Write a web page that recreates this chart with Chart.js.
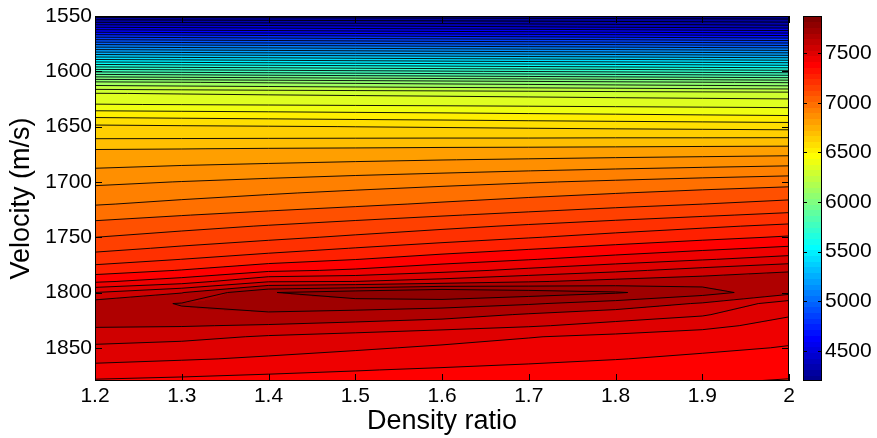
<!DOCTYPE html>
<html>
<head>
<meta charset="utf-8">
<script src="https://cdn.jsdelivr.net/npm/chart.js@4.4.1/dist/chart.umd.min.js"></script>
<style>
  html, body { margin: 0; padding: 0; background: #fff; }
  #wrap { width: 877px; height: 438px; position: relative; }
</style>
</head>
<body>
<div id="wrap"><canvas id="c"></canvas></div>
<script>
// Grid axes
const densityRatio = [1.2, 1.3, 1.4, 1.5, 1.6, 1.7, 1.8, 1.9, 2.0];
const velocity = [1550, 1560, 1570, 1580, 1590, 1600, 1610, 1620, 1630, 1640, 1650,
                  1660, 1670, 1680, 1690, 1700, 1710, 1720, 1730, 1740, 1750, 1760,
                  1770, 1780, 1790, 1800, 1810, 1820, 1830, 1840, 1850, 1860, 1870, 1880];

// Field values, one column per density ratio (rows follow `velocity`)
const zRho12 = [4230, 4553, 4874, 5195, 5517, 5838, 6158, 6362, 6434, 6557, 6663, 6713, 6789, 6832, 6874, 6922, 6964,
                7003, 7055, 7105, 7152, 7204, 7263, 7332, 7429, 7585, 7693, 7700, 7664, 7617, 7570, 7534, 7480, 7433];
const zRho13 = [4226, 4541, 4862, 5183, 5505, 5826, 6146, 6356, 6430, 6550, 6657, 6714, 6791, 6840, 6887, 6938, 6983,
                7025, 7078, 7131, 7180, 7236, 7297, 7372, 7477, 7653, 7733, 7715, 7661, 7606, 7554, 7519, 7468, 7425];
const zRho14 = [4222, 4529, 4849, 5172, 5494, 5814, 6135, 6350, 6426, 6544, 6652, 6715, 6795, 6847, 6899, 6954, 7002,
                7046, 7101, 7157, 7208, 7267, 7333, 7426, 7578, 7797, 7772, 7715, 7650, 7577, 7537, 7504, 7456, 7416];
const zRho15 = [4218, 4517, 4836, 5159, 5481, 5801, 6123, 6345, 6422, 6537, 6647, 6716, 6798, 6855, 6911, 6971, 7021,
                7067, 7124, 7182, 7236, 7299, 7367, 7451, 7585, 7837, 7772, 7700, 7635, 7557, 7521, 7488, 7444, 7408];
const zRho16 = [4215, 4505, 4824, 5147, 5470, 5789, 6111, 6340, 6419, 6531, 6642, 6717, 6802, 6863, 6923, 6987, 7040,
                7089, 7147, 7208, 7264, 7330, 7403, 7491, 7614, 7873, 7758, 7686, 7614, 7537, 7504, 7473, 7432, 7400];
const zRho17 = [4210, 4493, 4812, 5135, 5458, 5777, 6100, 6334, 6415, 6523, 6636, 6717, 6804, 6870, 6936, 7003, 7060,
                7110, 7170, 7234, 7292, 7361, 7437, 7531, 7650, 7837, 7736, 7650, 7592, 7516, 7487, 7458, 7420, 7391];
const zRho18 = [4206, 4481, 4800, 5123, 5447, 5765, 6088, 6328, 6411, 6517, 6630, 6719, 6807, 6878, 6948, 7019, 7078,
                7132, 7193, 7260, 7320, 7392, 7472, 7570, 7679, 7808, 7700, 7621, 7563, 7496, 7470, 7443, 7408, 7382];
const zRho19 = [4202, 4470, 4787, 5111, 5435, 5752, 6076, 6322, 6407, 6510, 6625, 6719, 6811, 6885, 6960, 7036, 7098,
                7152, 7216, 7285, 7348, 7424, 7507, 7610, 7700, 7758, 7650, 7592, 7534, 7475, 7454, 7427, 7395, 7374];
const zRho20 = [4198, 4457, 4775, 5099, 5423, 5740, 6064, 6317, 6403, 6504, 6619, 6720, 6814, 6893, 6972, 7052, 7116,
                7174, 7239, 7311, 7376, 7455, 7542, 7650, 7700, 7679, 7549, 7520, 7484, 7455, 7437, 7412, 7383, 7365];

// Tick labels
const xTicks = [1.2, 1.3, 1.4, 1.5, 1.6, 1.7, 1.8, 1.9, 2];
const yTicks = [1550, 1600, 1650, 1700, 1750, 1800, 1850];
const cbTicks = [4500, 5000, 5500, 6000, 6500, 7000, 7500];
const levelCount = 50;

// Assemble the grid z[row][col]
const columns = [zRho12, zRho13, zRho14, zRho15, zRho16, zRho17, zRho18, zRho19, zRho20];
const z = velocity.map((v, i) => columns.map(c => c[i]));
const zMin = Math.min(...columns.map(c => Math.min(...c)));
const zMax = Math.max(...columns.map(c => Math.max(...c)));
const levels = [];
for (let k = 1; k <= levelCount; k++) levels.push(zMin + k * (zMax - zMin) / (levelCount + 1));

// Classic 64-entry jet colormap
function jet(m) {
  const n = Math.ceil(m / 4);
  const u = [];
  for (let k = 1; k <= n; k++) u.push(k / n);
  for (let k = 1; k < n; k++) u.push(1);
  for (let k = n; k >= 1; k--) u.push(k / n);
  const off = Math.ceil(n / 2) - (m % 4 === 1 ? 1 : 0);
  const J = Array.from({ length: m }, () => [0, 0, 0]);
  u.forEach((val, idx) => {
    const g = off + idx + 1, r = g + n, b = g - n;
    if (g >= 1 && g <= m) J[g - 1][1] = val;
    if (r >= 1 && r <= m) J[r - 1][0] = val;
    if (b >= 1 && b <= m) J[b - 1][2] = val;
  });
  return J.map(c => c.map(x => Math.round(x * 255)));
}
const cmap = jet(64);
function colorFor(val) {
  let idx = Math.floor((val - zMin) / (zMax - zMin) * cmap.length);
  idx = Math.max(0, Math.min(cmap.length - 1, idx));
  return cmap[idx];
}
const bandColors = [colorFor(zMin)].concat(levels.map(colorFor));

function locate(arr, val) {
  let i = 0;
  while (i < arr.length - 2 && val > arr[i + 1]) i++;
  const t = Math.max(0, Math.min(1, (val - arr[i]) / (arr[i + 1] - arr[i])));
  return [i, t];
}

const contourPlugin = {
  id: 'contourFill',
  beforeDatasetsDraw(chart) {
    const { ctx, chartArea: a, scales } = chart;
    const xs = scales.x, ys = scales.y;
    const L = Math.round(a.left), T = Math.round(a.top);
    const W = Math.round(a.right) - L, H = Math.round(a.bottom) - T;
    const img = ctx.createImageData(W, H);
    const colIdx = [], rowIdx = [];
    for (let px = 0; px < W; px++) colIdx.push(locate(densityRatio, xs.getValueForPixel(L + px + 0.5)));
    for (let py = 0; py < H; py++) rowIdx.push(locate(velocity, ys.getValueForPixel(T + py + 0.5)));
    for (let py = 0; py < H; py++) {
      const [i, ty] = rowIdx[py];
      for (let px = 0; px < W; px++) {
        const [j, tx] = colIdx[px];
        const top = z[i][j] * (1 - tx) + z[i][j + 1] * tx;
        const bot = z[i + 1][j] * (1 - tx) + z[i + 1][j + 1] * tx;
        const val = top * (1 - ty) + bot * ty;
        let k = 0;
        while (k < levels.length && val >= levels[k]) k++;
        const c = bandColors[k];
        const o = (py * W + px) * 4;
        img.data[o] = c[0]; img.data[o + 1] = c[1]; img.data[o + 2] = c[2]; img.data[o + 3] = 255;
      }
    }
    ctx.putImageData(img, L, T);

    // Contour lines by marching squares
    ctx.save();
    ctx.beginPath();
    ctx.rect(a.left, a.top, a.right - a.left, a.bottom - a.top);
    ctx.clip();
    ctx.strokeStyle = 'rgba(0,0,0,0.9)';
    ctx.lineWidth = 1;
    const P = (x, v) => [xs.getPixelForValue(x), ys.getPixelForValue(v)];
    ctx.beginPath();
    for (const lev of levels) {
      for (let i = 0; i < velocity.length - 1; i++) {
        for (let j = 0; j < densityRatio.length - 1; j++) {
          const z00 = z[i][j], z01 = z[i][j + 1], z10 = z[i + 1][j], z11 = z[i + 1][j + 1];
          const x0 = densityRatio[j], x1 = densityRatio[j + 1], v0 = velocity[i], v1 = velocity[i + 1];
          const cross = (za, zb) => (za >= lev) !== (zb >= lev);
          const f = (za, zb) => (lev - za) / (zb - za);
          const pts = {};
          if (cross(z00, z01)) pts.t = P(x0 + f(z00, z01) * (x1 - x0), v0);
          if (cross(z01, z11)) pts.r = P(x1, v0 + f(z01, z11) * (v1 - v0));
          if (cross(z10, z11)) pts.b = P(x0 + f(z10, z11) * (x1 - x0), v1);
          if (cross(z00, z10)) pts.l = P(x0, v0 + f(z00, z10) * (v1 - v0));
          const keys = Object.keys(pts);
          const seg = (p, q) => { ctx.moveTo(p[0], p[1]); ctx.lineTo(q[0], q[1]); };
          if (keys.length === 2) seg(pts[keys[0]], pts[keys[1]]);
          else if (keys.length === 4) {
            const centre = (z00 + z01 + z10 + z11) / 4;
            if ((centre >= lev) === (z00 >= lev)) { seg(pts.t, pts.r); seg(pts.l, pts.b); }
            else { seg(pts.t, pts.l); seg(pts.r, pts.b); }
          }
        }
      }
    }
    ctx.stroke();
    ctx.restore();
  },
  afterDatasetsDraw(chart) {
    const { ctx, chartArea: a, scales } = chart;
    const xs = scales.x, ys = scales.y, cs = scales.cb;
    ctx.save();
    ctx.strokeStyle = '#000';
    ctx.lineWidth = 1;
    // Axes box
    ctx.strokeRect(a.left + 0.5, a.top + 0.5, a.right - a.left - 1, a.bottom - a.top - 1);
    // Inward tick marks on all four sides
    const tk = 7;
    ctx.beginPath();
    for (const t of xTicks) {
      const x = Math.round(xs.getPixelForValue(t)) + 0.5;
      ctx.moveTo(x, a.bottom); ctx.lineTo(x, a.bottom - tk);
      ctx.moveTo(x, a.top); ctx.lineTo(x, a.top + tk);
    }
    for (const t of yTicks) {
      const y = Math.round(ys.getPixelForValue(t)) + 0.5;
      ctx.moveTo(a.left, y); ctx.lineTo(a.left + tk, y);
      ctx.moveTo(a.right, y); ctx.lineTo(a.right - tk, y);
    }
    ctx.stroke();

    // Colour bar
    const cbL = Math.round(a.right) + 14, cbW = 19;
    const step = (zMax - zMin) / cmap.length;
    for (let k = 0; k < cmap.length; k++) {
      const yA = cs.getPixelForValue(zMin + k * step);
      const yB = cs.getPixelForValue(zMin + (k + 1) * step);
      const c = cmap[k];
      ctx.fillStyle = `rgb(${c[0]},${c[1]},${c[2]})`;
      ctx.fillRect(cbL, Math.floor(yB), cbW, Math.ceil(yA) - Math.floor(yB));
    }
    ctx.strokeStyle = '#000';
    ctx.strokeRect(cbL + 0.5, a.top + 0.5, cbW - 1, a.bottom - a.top - 1);
    ctx.beginPath();
    for (const t of cbTicks) {
      const y = Math.round(cs.getPixelForValue(t)) + 0.5;
      ctx.moveTo(cbL, y); ctx.lineTo(cbL + 4, y);
      ctx.moveTo(cbL + cbW, y); ctx.lineTo(cbL + cbW - 4, y);
    }
    ctx.stroke();
    ctx.restore();
  }
};

Chart.defaults.font.family = '"Liberation Sans", Arial, Helvetica, sans-serif';
Chart.defaults.color = '#000';

const tickFont = { size: 21 };
const titleFont = { size: 27, lineHeight: 1 };

// Fixed box sizes; label overhang is already covered by the layout padding
const fixBox = (w, h) => s => {
  if (w !== null) s.width = w;
  if (h !== null) s.height = h;
  s.paddingTop = 0; s.paddingBottom = 0; s.paddingLeft = 0; s.paddingRight = 0;
};

new Chart(document.getElementById('c'), {
  type: 'scatter',
  data: { datasets: [{ data: [], pointRadius: 0 }] },
  options: {
    responsive: true,
    maintainAspectRatio: false,
    devicePixelRatio: 1,
    animation: false,
    events: [],
    layout: { padding: { top: 16, left: 0, right: 0, bottom: 0 } },
    plugins: { legend: { display: false }, tooltip: { enabled: false } },
    scales: {
      x: {
        type: 'linear', position: 'bottom', min: 1.2, max: 2,
        afterBuildTicks: s => { s.ticks = xTicks.map(v => ({ value: v })); },
        afterFit: fixBox(null, 57),
        grid: { display: false, drawTicks: false },
        border: { display: false },
        ticks: { font: tickFont, padding: 3, autoSkip: false, maxRotation: 0, callback: v => String(v) },
        title: { display: true, text: 'Density ratio', font: titleFont, padding: { top: 0, bottom: 3 } }
      },
      y: {
        type: 'linear', position: 'left', reverse: true, min: 1550, max: 1880,
        afterBuildTicks: s => { s.ticks = yTicks.map(v => ({ value: v })); },
        afterFit: fixBox(95, null),
        grid: { display: false, drawTicks: false },
        border: { display: false },
        ticks: { font: tickFont, padding: 3, autoSkip: false, callback: v => String(v) },
        title: { display: true, text: 'Velocity (m/s)', font: titleFont, padding: { top: 8, bottom: 0 } }
      },
      cb: {
        type: 'linear', axis: 'y', position: 'right', min: zMin, max: zMax,
        afterBuildTicks: s => { s.ticks = cbTicks.map(v => ({ value: v })); },
        afterFit: fixBox(88, null),
        grid: { display: false, drawTicks: false },
        border: { display: false },
        ticks: { font: tickFont, padding: 36, autoSkip: false, callback: v => String(v) }
      }
    }
  },
  plugins: [contourPlugin]
});
</script>
</body>
</html>
